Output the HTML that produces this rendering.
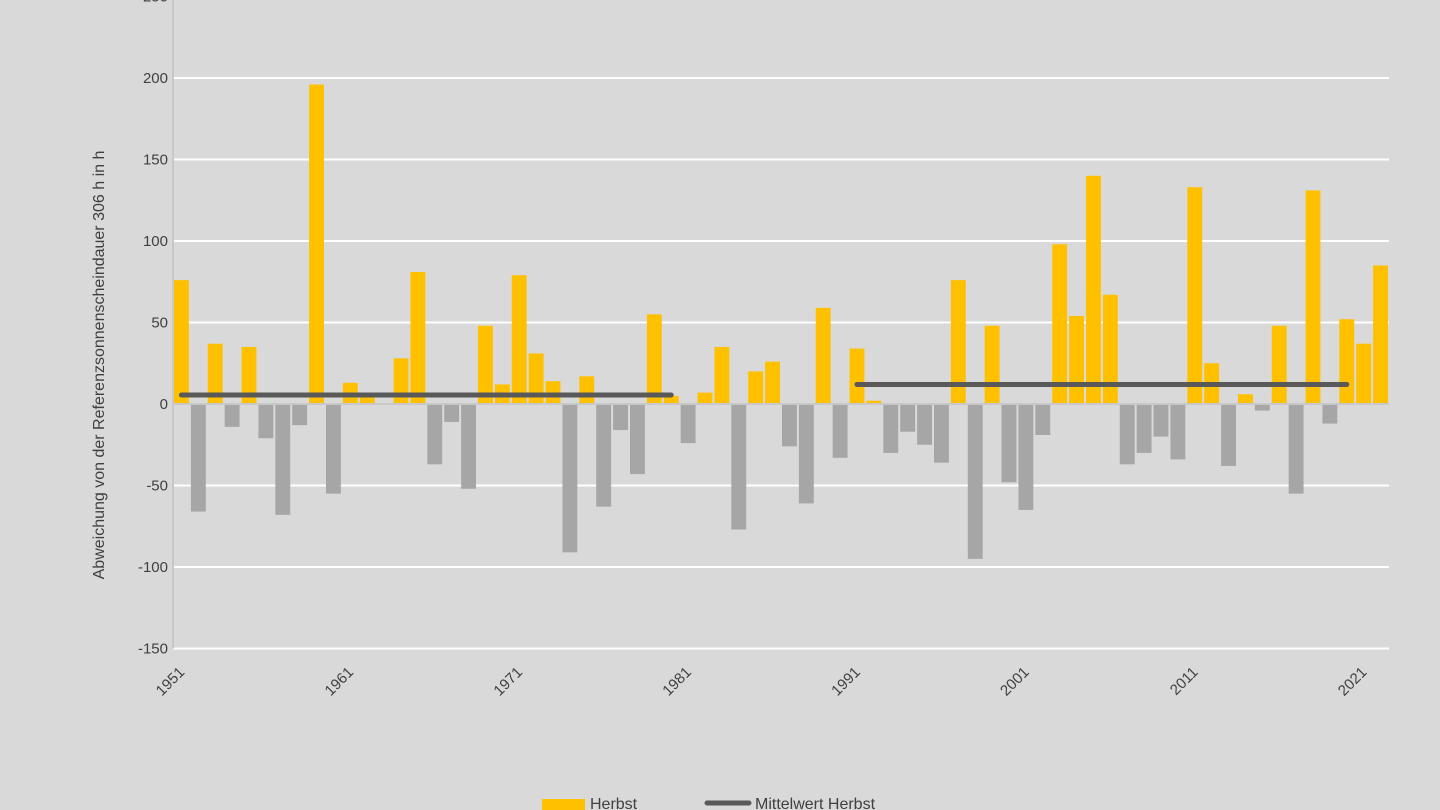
<!DOCTYPE html>
<html><head><meta charset="utf-8"><style>
html,body{margin:0;padding:0;background:#d9d9d9;}
svg{display:block;font-family:"Liberation Sans",sans-serif;}
</style></head><body>
<svg id="chart" width="1440" height="810" viewBox="0 0 1440 810">
<rect x="0" y="0" width="1440" height="810" fill="#d9d9d9"/>
<g id="grid"></g><g id="bars"></g><g id="lines"></g><g id="axes"></g>
<text transform="translate(104,365) rotate(-90)" text-anchor="middle" font-size="16" fill="#404040">Abweichung von der Referenzsonnenscheindauer 306 h in h</text>
<g>
<rect x="542" y="799" width="43" height="12" fill="#ffc000"/>
<text x="590" y="809" font-size="16" fill="#404040">Herbst</text>
<line x1="707" y1="803" x2="749" y2="803" stroke="#595959" stroke-width="5" stroke-linecap="round"/>
<text x="755" y="809" font-size="16" fill="#404040">Mittelwert Herbst</text>
</g>
</svg>
<script>
const years = [];
for (let y = 1951; y <= 2022; y++) years.push(y);
const values = [76,-66,37,-14,35,-21,-68,-13,196,-55,13,5,0,28,81,-37,-11,-52,48,12,79,31,14,-91,17,-63,-16,-43,55,5,-24,7,35,-77,20,26,-26,-61,59,-33,34,2,-30,-17,-25,-36,76,-95,48,-48,-65,-19,98,54,140,67,-37,-30,-20,-34,133,25,-38,6,-4,48,-55,131,-12,52,37,85];
const meanPeriods = [[1951,1980],[1991,2020]];
const meanValues = [5.5,12];
const yTicks = [-150,-100,-50,0,50,100,150,200,250];
const xLabelYears = [1951,1961,1971,1981,1991,2001,2011,2021];

const NS = "http://www.w3.org/2000/svg";
const left = 173, right = 1389, zeroY = 404, pxPerUnit = 81.5/50;
const band = (right - left) / years.length;
const yScale = v => zeroY - v * pxPerUnit;
const xStart = yr => left + (yr - years[0]) * band;
const xCenter = yr => xStart(yr) + band / 2;
function mk(tag, attrs, parent) {
  const e = document.createElementNS(NS, tag);
  for (const k in attrs) e.setAttribute(k, attrs[k]);
  parent.appendChild(e);
  return e;
}
const grid = document.getElementById('grid');
const axes = document.getElementById('axes');
yTicks.forEach(t => {
  if (t !== 0) {
    const l = mk('line', {x1:left, x2:right, y1:yScale(t), y2:yScale(t), stroke:'#ffffff', 'stroke-width':2}, grid);
    
    
  }
  const tx = mk('text', {x:168, y:yScale(t)+5, 'text-anchor':'end', 'font-size':15, fill:'#404040'}, axes);
  tx.textContent = t;
  
  
});
const yAxis = mk('line', {x1:left, x2:left, y1:0, y2:yScale(-150), stroke:'#c8c8c8', 'stroke-width':2}, axes);


const bars = document.getElementById('bars');
years.forEach((yr, i) => {
  const v = values[i];
  if (v === 0) return;
  const y0 = yScale(Math.max(v, 0)), h = Math.abs(v) * pxPerUnit;
  const r = mk('rect', {x:xStart(yr)+1, y:y0, width:band-2, height:h, fill: v > 0 ? '#ffc000' : '#a6a6a6'}, bars);
  
  
});
const zl = mk('line', {x1:left, x2:right, y1:zeroY, y2:zeroY, stroke:'#c8c8c8', 'stroke-width':2}, axes);


const lines = document.getElementById('lines');
meanPeriods.forEach((p, i) => {
  const l = mk('line', {x1:xCenter(p[0]), x2:xCenter(p[1]), y1:yScale(meanValues[i]), y2:yScale(meanValues[i]), stroke:'#595959', 'stroke-width':5, 'stroke-linecap':'round'}, lines);
  
  
});
xLabelYears.forEach(yr => {
  const cx = xCenter(yr) + 4, cy = 673;
  const t = mk('text', {x:cx, y:cy, 'text-anchor':'end', 'font-size':15, fill:'#404040', transform:'rotate(-45 ' + cx + ' ' + cy + ')'}, axes);
  t.textContent = yr;
  
  
});
</script>
</body></html>
